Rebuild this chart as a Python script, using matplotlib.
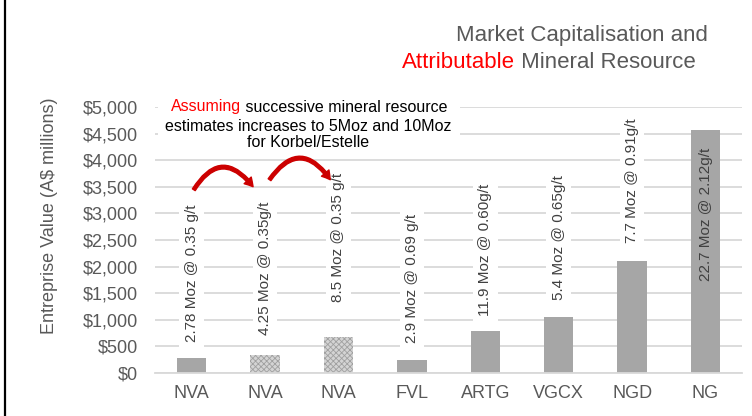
import matplotlib
matplotlib.use("Agg")
import matplotlib.pyplot as plt
from matplotlib.patches import FancyArrowPatch, Rectangle
from matplotlib.lines import Line2D
import numpy as np

plt.rcParams["font.family"] = ["Liberation Sans", "DejaVu Sans"]
plt.rcParams["hatch.linewidth"] = 0.6

# data
COMPANIES = ["NVA", "NVA", "NVA", "FVL", "ARTG", "VGCX", "NGD", "NG"]
EV = [290, 340, 680, 250, 780, 1060, 2110, 4570]          # A$ millions
RESOURCE = ["2.78 Moz @ 0.35 g/t", "4.25 Moz @ 0.35g/t", "8.5 Moz @ 0.35 g/t",
            "2.9 Moz @ 0.69 g/t", "11.9 Moz @ 0.60g/t", "5.4 Moz @ 0.65g/t",
            "7.7 Moz @ 0.91g/t", "22.7 Moz @ 2.12g/t"]
SCENARIO = [False, True, True, False, False, False, False, False]
# scenario arrows: (x0, y0, x1, y1) in category / A$m units
ARROWS = [(0.01, 3400, 0.86, 3460), (1.04, 3590, 1.91, 3590)]

# label offsets in points from the top of each bar (negative = inside, centred)
LABEL_PAD = [11, 14, 25, 12, 11, 12, 13, -61]

GREY = "#595959"
BAR = "#a6a6a6"

fig = plt.figure(figsize=(7.52, 4.16), dpi=100)
ax = fig.add_axes([0.206, 0.1034, 0.781, 0.6394])

x = np.arange(len(COMPANIES))
for i, v in enumerate(EV):
    if SCENARIO[i]:
        ax.bar(x[i], v, 0.4, color="#d4d4d4", edgecolor="#a0a0a0",
               hatch="xxxxxx", linewidth=0, zorder=2)
    else:
        ax.bar(x[i], v, 0.4, color=BAR, linewidth=0, zorder=2)

for i, (v, lab) in enumerate(zip(EV, RESOURCE)):
    pad = LABEL_PAD[i]
    inside = pad < 0
    ax.annotate(lab, (x[i], v), xytext=(0, pad), textcoords="offset points",
                rotation=90, ha="center", va="center" if inside else "bottom",
                fontsize=11, color="#404040", zorder=3,
                bbox=None if inside else dict(boxstyle="square,pad=0.35",
                                              fc="white", ec="none"))

for x0, y0, x1, y1 in ARROWS:
    ax.add_patch(FancyArrowPatch(
        (x0, y0), (x1, y1), connectionstyle="arc3,rad=-0.75",
        arrowstyle="simple,head_width=7,head_length=6,tail_width=2.4",
        color="#cc0000", zorder=4, clip_on=False))

ax.set_xlim(-0.5, len(COMPANIES) - 0.5)
ax.set_ylim(0, 5000)
ax.set_yticks(np.arange(0, 5001, 500))
ax.set_yticklabels([f"${v:,.0f}" for v in np.arange(0, 5001, 500)])
ax.set_xticks(x)
ax.set_xticklabels(COMPANIES)
ax.tick_params(length=0, labelsize=13, labelcolor=GREY)
ax.tick_params(axis="y", pad=12)
ax.tick_params(axis="x", pad=9)
ax.grid(axis="y", color="#d9d9d9", linewidth=1.3, zorder=0)
ax.set_axisbelow(True)
for s in ["top", "right", "left"]:
    ax.spines[s].set_visible(False)
ax.spines["bottom"].set_color("#d9d9d9")
ax.spines["bottom"].set_linewidth(1.3)

fig.text(50 / 752, 1 - 216 / 416, "Entreprise Value (A$ millions)",
         rotation=90, ha="center", va="center", fontsize=13, color=GREY)

# scenario note above the NVA bars, on a white patch hiding the gridlines
fig.add_artist(Rectangle((158 / 752, 1 - 152 / 416), 302 / 752, 58 / 416,
                         transform=fig.transFigure, fc="white", ec="none",
                         zorder=1))
fig.text(241 / 752, 1 - 107 / 416, "Assuming", color="red", fontsize=11.5,
         ha="right", va="center", zorder=2)
fig.text(241 / 752, 1 - 107 / 416, " successive mineral resource",
         color="black", fontsize=11.5, ha="left", va="center", zorder=2)
fig.text(308 / 752, 1 - 134.5 / 416,
         "estimates increases to 5Moz and 10Moz\nfor Korbel/Estelle",
         color="black", fontsize=11.5, ha="center", va="center",
         linespacing=1.15, zorder=2)

# two-colour title
fig.text(582 / 752, 1 - 35 / 416, "Market Capitalisation and",
         ha="center", va="center", fontsize=16, color=GREY)
fig.text(515 / 752, 1 - 62 / 416, "Attributable", ha="right", va="center",
         fontsize=16, color="red")
fig.text(515 / 752, 1 - 62 / 416, " Mineral Resource", ha="left", va="center",
         fontsize=16, color=GREY)

fig.add_artist(Line2D([5 / 752, 5 / 752], [0, 1], color="black", linewidth=1.6,
                      transform=fig.transFigure))

fig.savefig("out.png", dpi=100)
